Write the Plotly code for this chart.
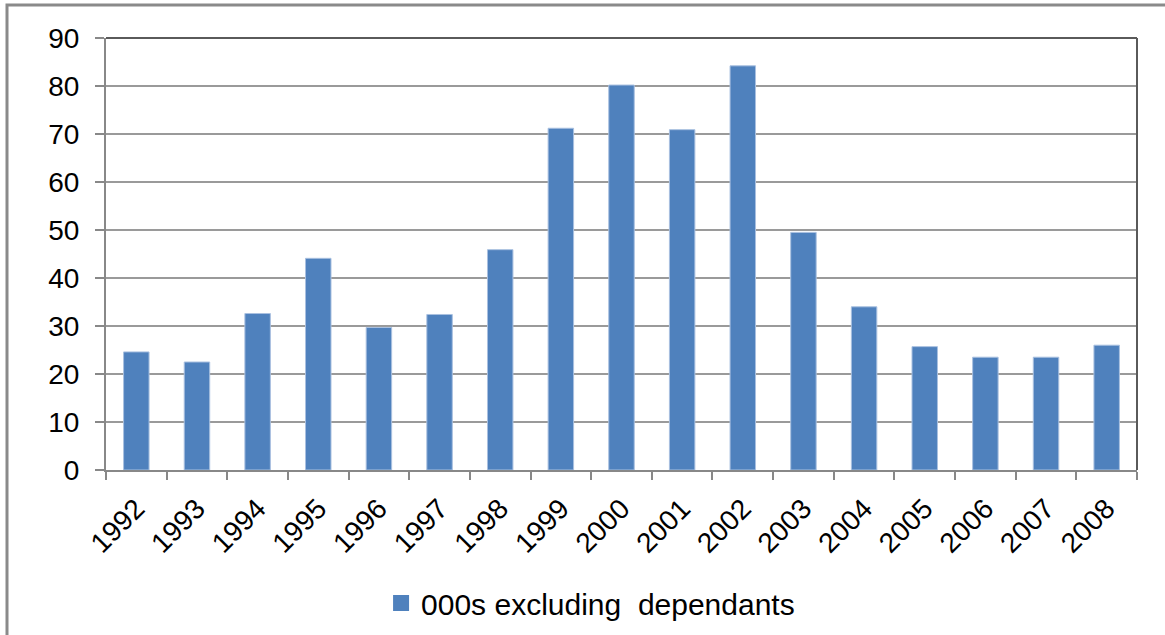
import plotly.graph_objects as go

years = ["1992", "1993", "1994", "1995", "1996", "1997", "1998", "1999", "2000",
         "2001", "2002", "2003", "2004", "2005", "2006", "2007", "2008"]
values = [24.6, 22.5, 32.6, 44.1, 29.7, 32.4, 45.9, 71.2, 80.2,
          70.9, 84.2, 49.5, 34.0, 25.7, 23.5, 23.5, 26.0]
series_name = "000s excluding  dependants"
y_ticks = [0, 10, 20, 30, 40, 50, 60, 70, 80, 90]

FONT = "Liberation Sans, Arial, sans-serif"
BAR_COLOR = "#4F81BD"

fig = go.Figure()
fig.add_trace(go.Bar(
    x=years, y=values, name=series_name, showlegend=False,
    marker=dict(color=BAR_COLOR, line=dict(color="#A9C0E0", width=1)),
))
# legend proxy with a larger square key, like the original
fig.add_trace(go.Scatter(
    x=[None], y=[None], mode="markers", name=series_name,
    marker=dict(symbol="square", size=16, color=BAR_COLOR),
))

L, R, T, B = 106, 28, 38, 165
W, H = 1165, 635
pw = W - L - R
ph = H - T - B

fig.update_layout(
    width=W, height=H,
    margin=dict(l=L, r=R, t=T, b=B, autoexpand=False),
    paper_bgcolor="white", plot_bgcolor="white",
    bargap=0.58,
    showlegend=True,
    legend=dict(orientation="h", x=0.47, xanchor="center", y=-(603 - 470) / ph, yanchor="middle",
                font=dict(family=FONT, size=30, color="black"),
                itemwidth=30),
    font=dict(family=FONT, color="black"),
    xaxis=dict(
        type="category", tickangle=-45, tickfont=dict(size=28, family=FONT, color="black"),
        showline=True, linecolor="#888888", linewidth=2, automargin=False,
        ticks="outside", ticklen=8, tickcolor="#888888", tickwidth=2,
        tickson="boundaries", showgrid=False, ticklabelstandoff=9,
    ),
    yaxis=dict(
        range=[0, 90], tickvals=y_ticks, tickfont=dict(size=28, family=FONT, color="black"),
        showline=True, linecolor="#888888", linewidth=2, automargin=False,
        ticks="outside", ticklen=9, tickcolor="#888888", tickwidth=2,
        showgrid=True, gridcolor="#9a9a9a", gridwidth=2, zeroline=False,
        ticklabelstandoff=10,
    ),
)

# plot-area top & right borders
fig.add_shape(type="line", xref="paper", yref="paper", x0=0, x1=1, y0=1, y1=1,
              line=dict(color="#5a5a5a", width=2))
fig.add_shape(type="line", xref="paper", yref="paper", x0=1, x1=1, y0=0, y1=1,
              line=dict(color="#5a5a5a", width=2))

# outer chart border
fig.add_shape(type="rect", xref="paper", yref="paper",
              x0=(7 - L) / pw, x1=(1200 - L) / pw,
              y0=-(680 - (H - B)) / ph, y1=1 + (T - 5) / ph,
              line=dict(color="#8a8a8a", width=3), layer="below")

fig.write_html("out.html")
